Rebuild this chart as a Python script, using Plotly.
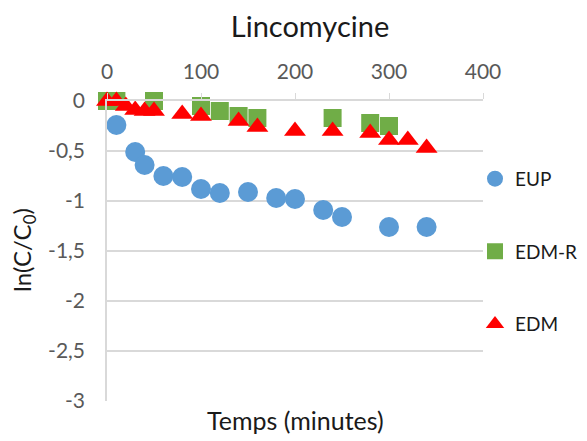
import plotly.graph_objects as go

# EUP (blue circles)
eup_t = [10, 30, 40, 60, 80, 100, 120, 150, 180, 200, 230, 250, 300, 340]
eup_y = [-0.24, -0.51, -0.64, -0.75, -0.76, -0.88, -0.92, -0.91, -0.97, -0.98, -1.09, -1.16, -1.26, -1.26]

# EDM-R (green squares)
edmr_t = [0, 10, 50, 100, 120, 140, 160, 240, 280, 300]
edmr_y = [0, 0, 0, -0.05, -0.1, -0.15, -0.17, -0.17, -0.22, -0.25]

# EDM (red triangles)
edm_t = [0, 10, 20, 30, 40, 50, 80, 100, 140, 160, 200, 240, 280, 300, 320, 340]
edm_y = [0, 0, -0.05, -0.09, -0.1, -0.1, -0.13, -0.15, -0.2, -0.26, -0.3, -0.3, -0.32, -0.39, -0.39, -0.47]

y_ticks = [0, -0.5, -1, -1.5, -2, -2.5, -3]
y_labels = ["0", "-0,5", "-1", "-1,5", "-2", "-2,5", "-3"]
x_ticks = [0, 100, 200, 300, 400]

font = "Lato, Open Sans, sans-serif"
grey = "#595959"
grid = "#d9d9d9"
dark = "#1a1a1a"

fig = go.Figure()
fig.add_trace(go.Scatter(x=eup_t, y=eup_y, mode="markers", name="EUP", legendgroup="a",
                         marker=dict(symbol="circle", size=20, color="#5b9bd5"), cliponaxis=False))
fig.add_trace(go.Scatter(x=edmr_t, y=edmr_y, mode="markers", name="EDM-R", legendgroup="b",
                         marker=dict(symbol="square", size=18, color="#70ad47"), cliponaxis=False))
fig.add_trace(go.Scatter(x=edm_t, y=edm_y, mode="markers", name="EDM", legendgroup="c",
                         marker=dict(symbol="triangle-up", size=19, color="#ff0000"), cliponaxis=False))

# page body adds an 8px offset, so the figure is laid out 8px up/left;
# extra width on the right keeps the legend from squeezing the plot
W = 640
fig.update_layout(
    width=W, height=441,
    paper_bgcolor="white", plot_bgcolor="white",
    font=dict(family=font, color=grey, size=21),
    margin=dict(l=99, r=W - 99 - 376, t=93, b=48),
    title=dict(text="Lincomycine", x=302 / W, xanchor="center", y=1 - 19 / 441, yref="container",
               yanchor="middle", font=dict(size=29, color=dark)),
    xaxis=dict(range=[0, 400], side="top", tickvals=x_ticks, ticks="outside", ticklen=6,
               tickcolor=grid, showline=True, linecolor=grid, linewidth=1.5, showgrid=False,
               zeroline=False, automargin=False, ticklabelstandoff=6,
               tickfont=dict(size=21, color=grey)),
    yaxis=dict(range=[-3, 0], tickvals=y_ticks, ticktext=y_labels, showgrid=True, gridcolor=grid,
               gridwidth=1.5, showline=True, linecolor=grid, linewidth=1.5, zeroline=False,
               ticks="", automargin=False, ticklabelstandoff=16,
               tickfont=dict(size=21, color=grey)),
    legend=dict(x=(467 - 99) / 376, xanchor="left", y=0.804, yanchor="top",
                traceorder="grouped", tracegroupgap=45, bgcolor="rgba(0,0,0,0)",
                font=dict(size=19, color=dark)),
    annotations=[
        dict(text="Temps (minutes)", x=(295 - 107) / 376, xref="paper", y=-(420 - 401) / 300,
             yref="paper", xanchor="center", yanchor="middle", showarrow=False,
             font=dict(size=25, color=dark)),
        dict(text="ln(C/C<sub>0</sub>)", x=-(107 - 23) / 376, xref="paper", y=(401 - 250) / 300,
             yref="paper", xanchor="center", yanchor="middle", showarrow=False, textangle=-90,
             font=dict(size=24, color=dark)),
    ],
)

fig.write_html("out.html")
